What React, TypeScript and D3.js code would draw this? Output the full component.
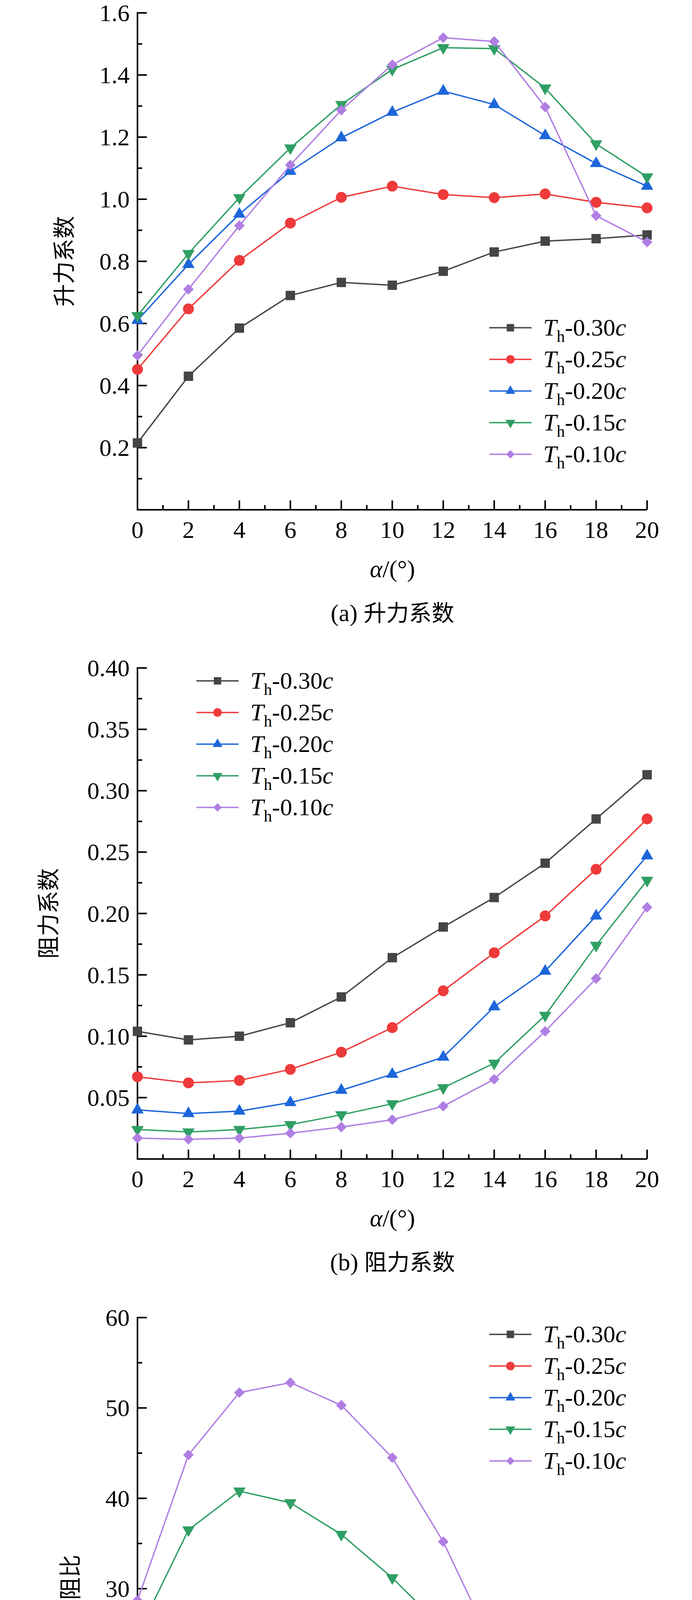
import React, { useRef, useEffect } from 'react';
import * as d3 from 'd3';

const angles = [0, 2, 4, 6, 8, 10, 12, 14, 16, 18, 20];
const seriesNames = ['0.30', '0.25', '0.20', '0.15', '0.10'];
const colors = ['#454545', '#ee3a3a', '#1d66da', '#2f9f63', '#b07ee3'];
const markers = ['square', 'circle', 'triangle', 'triangleDown', 'diamond'];

const liftValues = [
  [0.215, 0.43, 0.585, 0.69, 0.732, 0.723, 0.768, 0.83, 0.865, 0.873, 0.885],
  [0.452, 0.647, 0.803, 0.923, 1.006, 1.042, 1.015, 1.005, 1.017, 0.99, 0.972],
  [0.61, 0.79, 0.952, 1.09, 1.198, 1.28, 1.348, 1.305, 1.205, 1.115, 1.042],
  [0.625, 0.825, 1.005, 1.165, 1.305, 1.418, 1.488, 1.485, 1.358, 1.178, 1.072],
  [0.497, 0.71, 0.915, 1.11, 1.287, 1.433, 1.52, 1.508, 1.297, 0.947, 0.862],
];
const dragValues = [
  [0.104, 0.097, 0.1, 0.111, 0.132, 0.164, 0.189, 0.213, 0.241, 0.277, 0.313],
  [0.067, 0.062, 0.064, 0.073, 0.087, 0.107, 0.137, 0.168, 0.198, 0.236, 0.277],
  [0.04, 0.037, 0.039, 0.046, 0.056, 0.069, 0.083, 0.124, 0.153, 0.198, 0.247],
  [0.024, 0.022, 0.024, 0.028, 0.036, 0.045, 0.058, 0.078, 0.117, 0.174, 0.227],
  [0.017, 0.016, 0.017, 0.021, 0.026, 0.032, 0.043, 0.065, 0.104, 0.147, 0.205],
];
const ratioValues = [
  [2.1, 4.5, 6.0, 6.2, 5.6, 4.5, 4.1, 4.0, 3.6, 3.2, 2.9],
  [6.8, 10.5, 12.4, 12.7, 11.6, 9.8, 7.5, 6.0, 5.2, 4.3, 3.6],
  [15.2, 21.3, 24.0, 23.4, 21.2, 18.4, 16.1, 10.7, 7.9, 5.7, 4.4],
  [24.9, 36.5, 40.8, 39.5, 36.0, 31.2, 25.6, 18.7, 11.6, 6.8, 4.6],
  [28.7, 44.8, 51.7, 52.8, 50.3, 44.5, 35.2, 23.3, 12.5, 6.6, 4.1],
];

const liftTicks = [0.2, 0.4, 0.6, 0.8, 1.0, 1.2, 1.4, 1.6];
const dragTicks = [0.05, 0.1, 0.15, 0.2, 0.25, 0.3, 0.35, 0.4];
const ratioTicks = [10, 20, 30, 40, 50, 60];

const FONT = '"Liberation Serif", "Times New Roman", serif';
const CJK = '"Noto Sans CJK SC", sans-serif';

type PanelCfg = {
  top: number; bottom: number; maxY: number; yTicks: number[]; yMinor: number;
  fmt: (v: number) => string; values: number[][];
  legendX: number; legendY: number; yLabel: string; yLabelX: number; caption: string;
};

const panels: PanelCfg[] = [
  { top: 33, bottom: 1305, maxY: 1.6, yTicks: liftTicks, yMinor: 0.1, fmt: d3.format('.1f'), values: liftValues,
    legendX: 1253, legendY: 839, yLabel: '升力系数', yLabelX: 160, caption: '(a) 升力系数' },
  { top: 1710, bottom: 2967, maxY: 0.4, yTicks: dragTicks, yMinor: 0.025, fmt: d3.format('.2f'), values: dragValues,
    legendX: 503, legendY: 1743, yLabel: '阻力系数', yLabelX: 120, caption: '(b) 阻力系数' },
  { top: 3373, bottom: 4761, maxY: 60, yTicks: ratioTicks, yMinor: 5, fmt: d3.format('d'), values: ratioValues,
    legendX: 1253, legendY: 3416, yLabel: '升阻比', yLabelX: 176, caption: '(c) 升阻比' },
];

function drawMarker(g: any, type: string, x: number, y: number, color: string, s: number) {
  if (type === 'circle') {
    g.append('circle').attr('cx', x).attr('cy', y).attr('r', s * 0.58).attr('fill', color);
  } else if (type === 'square') {
    g.append('rect').attr('x', x - s / 2).attr('y', y - s / 2).attr('width', s).attr('height', s).attr('fill', color);
  } else if (type === 'diamond') {
    const d = s * 0.8;
    g.append('rect').attr('x', -d / 2).attr('y', -d / 2).attr('width', d).attr('height', d)
      .attr('transform', `translate(${x},${y}) rotate(45)`).attr('fill', color);
  } else {
    const rot = type === 'triangleDown' ? 180 : 0;
    g.append('path').attr('d', d3.symbol(d3.symbolTriangle, s * s * 0.75)())
      .attr('transform', `translate(${x},${y}) rotate(${rot})`).attr('fill', color);
  }
}

const App: React.FC = () => {
  const svgRef = useRef<SVGSVGElement>(null);

  useEffect(() => {
    const svg = d3.select(svgRef.current);
    svg.selectAll('*').remove();
    const x = d3.scaleLinear().domain([0, 20]).range([352, 1657]);

    panels.forEach((p) => {
      const y = d3.scaleLinear().domain([0, p.maxY]).range([p.bottom, p.top]);
      const g = svg.append('g');

      // axes
      g.append('line').attr('x1', x(0)).attr('x2', x(20)).attr('y1', p.bottom).attr('y2', p.bottom)
        .attr('stroke', '#000').attr('stroke-width', 4);
      g.append('line').attr('x1', x(0)).attr('x2', x(0)).attr('y1', p.top - 2).attr('y2', p.bottom + 2)
        .attr('stroke', '#000').attr('stroke-width', 4);
      d3.range(0, 21, 1).forEach((a) => {
        const major = a % 2 === 0;
        g.append('line').attr('x1', x(a)).attr('x2', x(a)).attr('y1', p.bottom).attr('y2', p.bottom - (major ? 24 : 12))
          .attr('stroke', '#000').attr('stroke-width', 4);
      });
      angles.forEach((a) => {
        g.append('text').attr('x', x(a)).attr('y', p.bottom + 72).attr('text-anchor', 'middle')
          .attr('font-family', FONT).attr('font-size', 62).text(a);
      });
      const nMinor = Math.round(p.maxY / p.yMinor);
      d3.range(1, nMinor + 1).forEach((i) => {
        const v = i * p.yMinor;
        const major = i % 2 === 0;
        g.append('line').attr('x1', x(0)).attr('x2', x(0) + (major ? 24 : 12)).attr('y1', y(v)).attr('y2', y(v))
          .attr('stroke', '#000').attr('stroke-width', 4);
      });
      p.yTicks.forEach((v) => {
        g.append('text').attr('x', x(0) - 20).attr('y', y(v) + 21).attr('text-anchor', 'end')
          .attr('font-family', FONT).attr('font-size', 62).text(p.fmt(v));
      });

      // axis titles
      const xt = g.append('text').attr('x', 1005).attr('y', p.bottom + 172).attr('text-anchor', 'middle')
        .attr('font-family', FONT).attr('font-size', 62);
      xt.append('tspan').attr('font-style', 'italic').text('α');
      xt.append('tspan').text('/(°)');
      g.append('text').attr('transform', `translate(${p.yLabelX},${(p.top + p.bottom) / 2}) rotate(-90)`)
        .attr('text-anchor', 'middle').attr('dominant-baseline', 'central')
        .attr('font-family', CJK).attr('font-size', 58).text(p.yLabel);
      const cap = g.append('text').attr('x', 1005).attr('y', p.bottom + 285).attr('text-anchor', 'middle')
        .attr('font-family', FONT).attr('font-size', 62);
      const [pre, rest] = p.caption.split(' ');
      cap.append('tspan').text(pre + ' ');
      cap.append('tspan').attr('font-family', CJK).attr('font-size', 58).text(rest);

      // series
      const line = d3.line<number>().x((_, i) => x(angles[i])).y((d) => y(d));
      p.values.forEach((vals, si) => {
        g.append('path').attr('d', line(vals)).attr('fill', 'none')
          .attr('stroke', colors[si]).attr('stroke-width', 3.5);
        vals.forEach((v, i) => drawMarker(g, markers[si], x(angles[i]), y(v), colors[si], 24));
      });

      // legend
      seriesNames.forEach((name, si) => {
        const ly = p.legendY + si * 81;
        g.append('line').attr('x1', p.legendX).attr('x2', p.legendX + 108).attr('y1', ly).attr('y2', ly)
          .attr('stroke', colors[si]).attr('stroke-width', 3.5);
        drawMarker(g, markers[si], p.legendX + 54, ly, colors[si], 19);
        const t = g.append('text').attr('x', p.legendX + 138).attr('y', ly + 20)
          .attr('font-family', FONT).attr('font-size', 62);
        t.append('tspan').attr('font-style', 'italic').text('T');
        t.append('tspan').attr('font-size', 42).attr('dy', 16).text('h');
        t.append('tspan').attr('dy', -16).text(`-${name}`);
        t.append('tspan').attr('font-style', 'italic').text('c');
      });
    });
  }, []);

  return (
    <svg ref={svgRef} width={1772} height={5063}
      style={{ display: 'block', margin: '-8px 0 0 -8px', background: '#fff' }} />
  );
};

export default App;
